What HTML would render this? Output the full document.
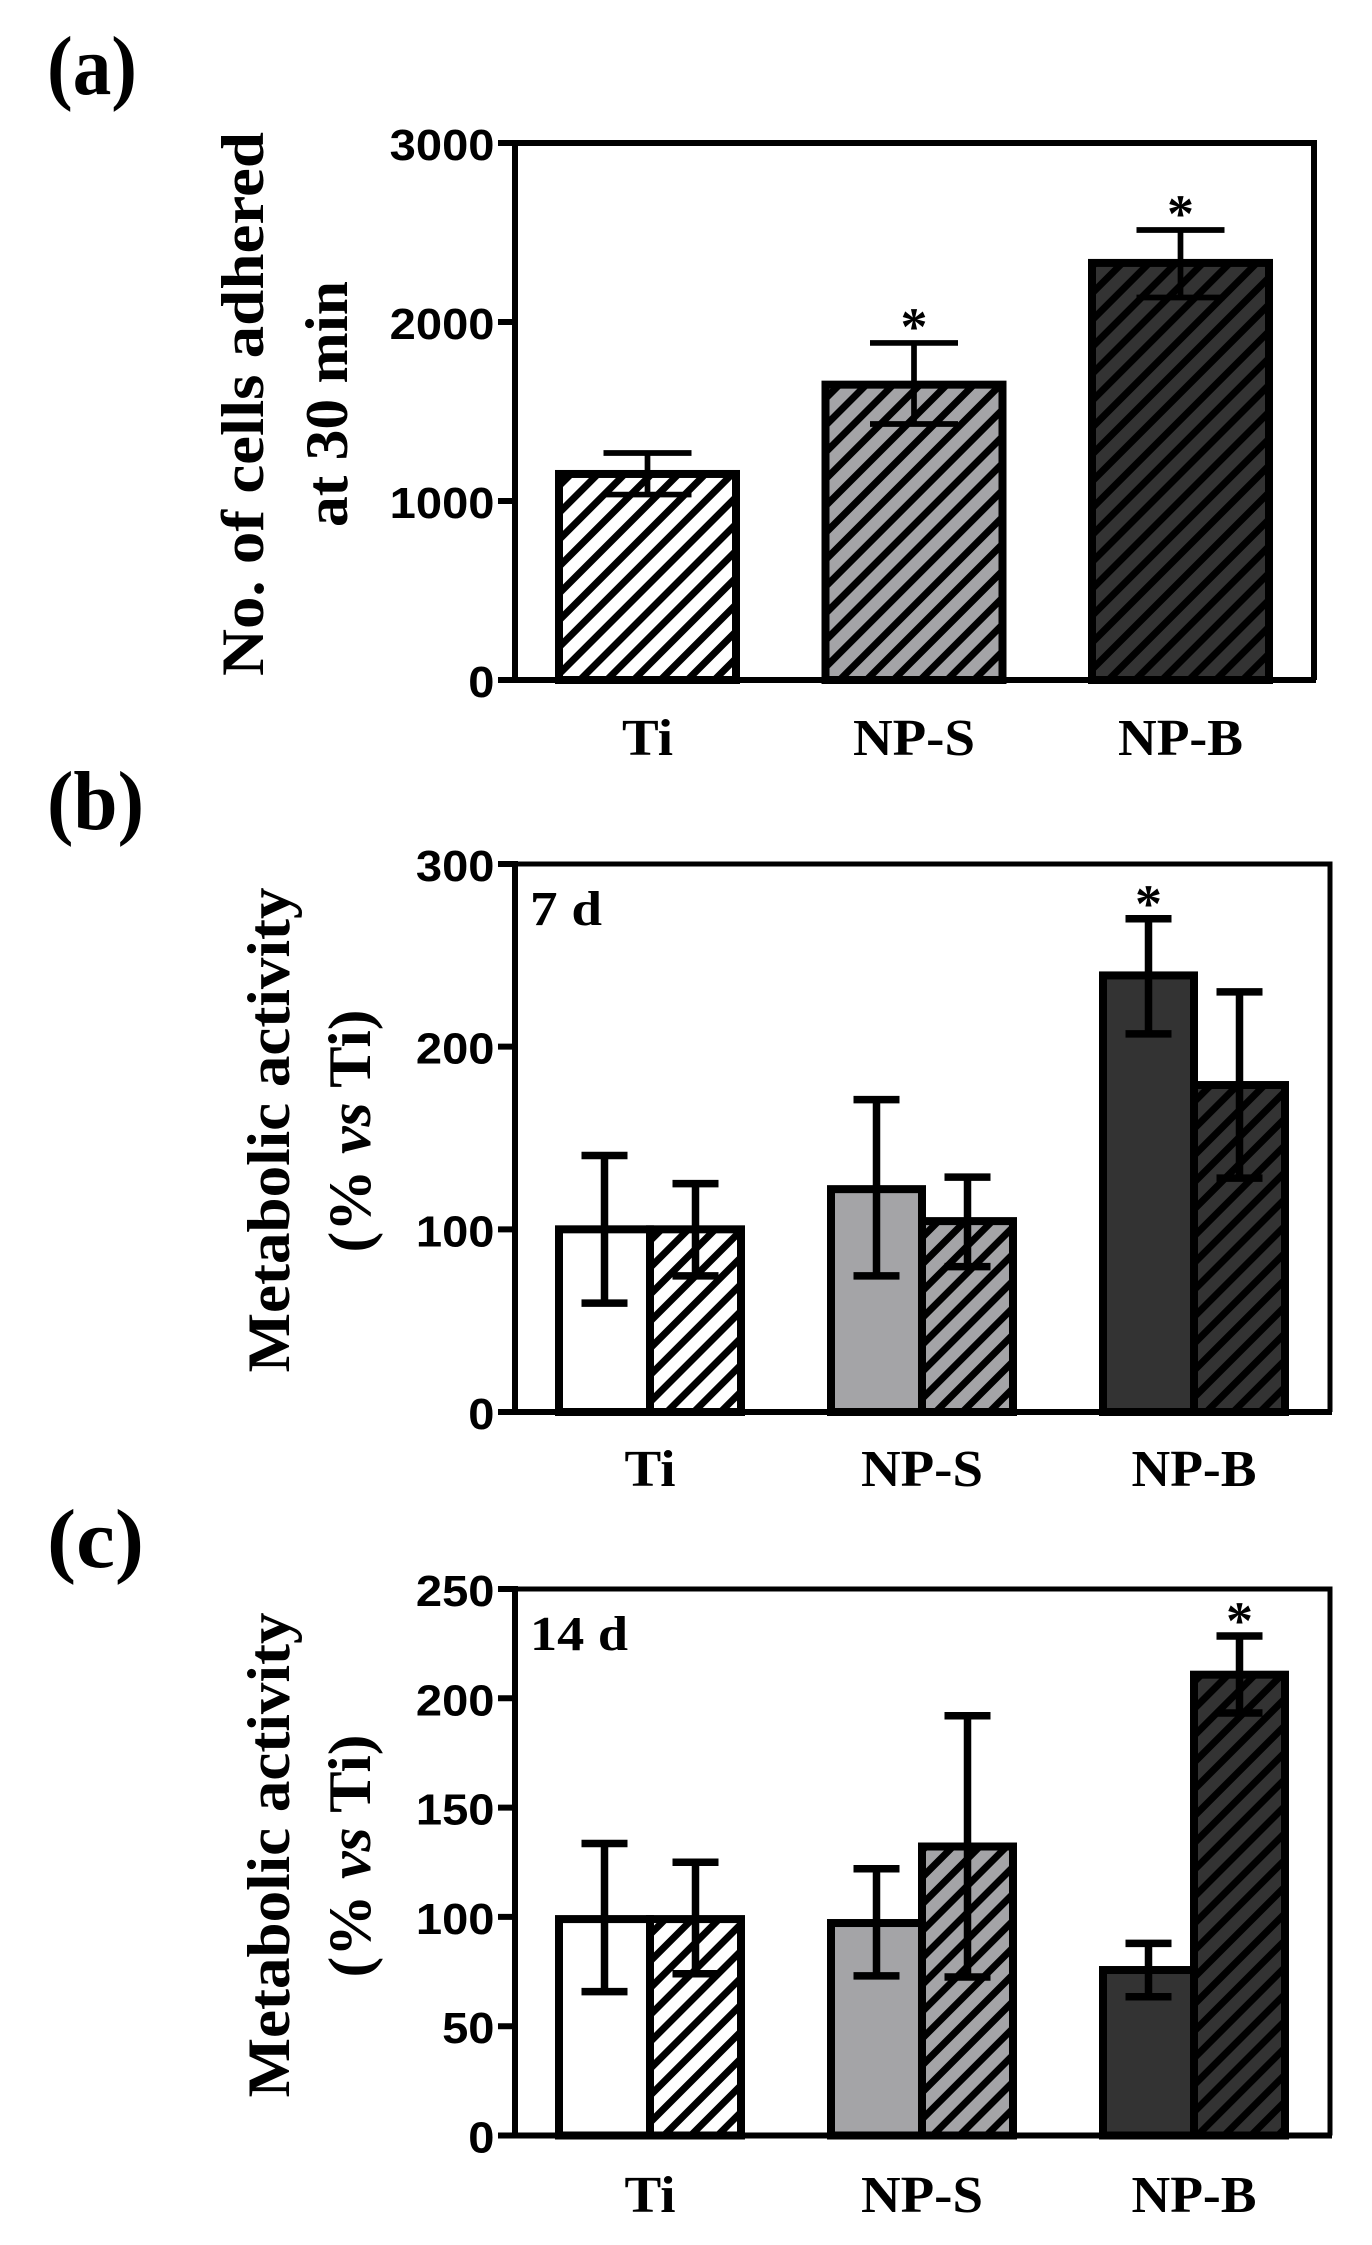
<!DOCTYPE html>
<html lang="en">
<head>
<meta charset="utf-8">
<title>Cell adhesion and metabolic activity</title>
<style>
html,body{margin:0;padding:0;background:#fff}
svg{display:block}
text{fill:#000}
.serif{font-family:"Liberation Serif",serif;font-weight:bold}
.tick{font-family:"Liberation Sans",sans-serif;font-weight:bold;font-size:44px}
</style>
</head>
<body>
<svg id="figure" xmlns="http://www.w3.org/2000/svg" width="1372" height="2245" viewBox="0 0 1372 2245">
<rect width="1372" height="2245" fill="#fff"/>
<defs id="defs"></defs>
<text class="serif" x="47" y="94" font-size="84" textLength="90" lengthAdjust="spacingAndGlyphs">(a)</text>
<text class="serif" x="47" y="829" font-size="84" textLength="97" lengthAdjust="spacingAndGlyphs">(b)</text>
<text class="serif" x="47" y="1567" font-size="84" textLength="97" lengthAdjust="spacingAndGlyphs">(c)</text>
<text class="serif" transform="translate(263,404) rotate(-90)" text-anchor="middle" font-size="60" textLength="544" lengthAdjust="spacingAndGlyphs">No. of cells adhered</text>
<text class="serif" transform="translate(347,404) rotate(-90)" text-anchor="middle" font-size="60" textLength="246" lengthAdjust="spacingAndGlyphs">at 30 min</text>
<text class="serif" transform="translate(289,1130) rotate(-90)" text-anchor="middle" font-size="60" textLength="485" lengthAdjust="spacingAndGlyphs">Metabolic activity</text>
<text class="serif" transform="translate(370,1131) rotate(-90)" text-anchor="middle" font-size="60" textLength="243" lengthAdjust="spacingAndGlyphs">(% <tspan font-style="italic">vs</tspan> Ti)</text>
<text class="serif" transform="translate(289,1855) rotate(-90)" text-anchor="middle" font-size="60" textLength="485" lengthAdjust="spacingAndGlyphs">Metabolic activity</text>
<text class="serif" transform="translate(370,1856) rotate(-90)" text-anchor="middle" font-size="60" textLength="243" lengthAdjust="spacingAndGlyphs">(% <tspan font-style="italic">vs</tspan> Ti)</text>
<text class="serif" x="530" y="925" font-size="49" textLength="72" lengthAdjust="spacingAndGlyphs">7 d</text>
<text class="serif" x="530" y="1650" font-size="49" textLength="98" lengthAdjust="spacingAndGlyphs">14 d</text>
</svg>
<script>
// Panel (a): cells adhered at 30 min
const categoriesA = ['Ti', 'NP-S', 'NP-B'];
const valuesA = [1151, 1650, 2330];
const errHighA = [1268, 1883, 2514];
const errLowA = [1036, 1430, 2137];
const ticksA = [0, 1000, 2000, 3000];
const starsA = [false, true, true];

// Panel (b): metabolic activity at 7 d (two bars per category)
const categoriesB = ['Ti', 'NP-S', 'NP-B'];
const valuesB = [100, 100, 122, 104.5, 239, 179];
const errHighB = [140.4, 125, 171, 128.6, 270, 230];
const errLowB = [59.6, 74.5, 74.5, 79.6, 207, 128];
const ticksB = [0, 100, 200, 300];
const starsB = [false, false, false, false, true, false];

// Panel (c): metabolic activity at 14 d (two bars per category)
const categoriesC = ['Ti', 'NP-S', 'NP-B'];
const valuesC = [99, 99, 97.2, 132.2, 75.7, 210.8];
const errHighC = [133.6, 125, 122, 192, 87.9, 228.5];
const errLowC = [65.8, 74, 73, 72.5, 63.5, 193.3];
const ticksC = [0, 50, 100, 150, 200, 250];
const starsC = [false, false, false, false, false, true];

const NS = 'http://www.w3.org/2000/svg';
const svg = document.getElementById('figure');
const defs = document.getElementById('defs');
const FILLS = ['#ffffff', '#a4a4a7', '#333333'];

function make(tag, attrs, parent) {
  const node = document.createElementNS(NS, tag);
  for (const key in attrs) node.setAttribute(key, attrs[key]);
  parent.appendChild(node);
  return node;
}

function hatch(id, color, phase) {
  const p = make('pattern', {
    id: id, patternUnits: 'userSpaceOnUse', width: 19.0, height: 19.0,
    patternTransform: 'translate(' + (phase - 5) + ',0) rotate(45)'
  }, defs);
  make('rect', { width: 19.0, height: 19.0, fill: color }, p);
  make('rect', { width: 7, height: 19.0, fill: '#000' }, p);
}

function drawPanel(cfg) {
  const g = make('g', {}, svg);
  
  
  const yMax = cfg.ticks[cfg.ticks.length - 1];
  const yScale = v => cfg.y0 - (v / yMax) * (cfg.y0 - cfg.yTop);
  const perGroup = cfg.values.length / cfg.categories.length;

  FILLS.forEach((c, i) => hatch('hatch-' + cfg.key + i, c, cfg.phases[i]));

  cfg.values.forEach((v, i) => {
    const group = Math.floor(i / perGroup);
    const member = i % perGroup;
    const x = cfg.x0 + group * cfg.groupStep + member * cfg.barW;
    const hatched = perGroup === 1 || member === 1;
    const bar = make('rect', {
      x: x, y: yScale(v), width: cfg.barW, height: cfg.y0 - yScale(v),
      fill: hatched ? 'url(#hatch-' + cfg.key + group + ')' : FILLS[group],
      stroke: '#000', 'stroke-width': 8
    }, g);
    
    
  });

  cfg.values.forEach((v, i) => {
    const group = Math.floor(i / perGroup);
    const member = i % perGroup;
    const cx = cfg.x0 + group * cfg.groupStep + member * cfg.barW + cfg.barW / 2;
    const hi = yScale(cfg.errHigh[i]);
    const lo = yScale(cfg.errLow[i]);
    const err = make('path', {
      d: 'M' + cx + ' ' + hi + 'V' + lo +
         'M' + (cx - cfg.capW / 2) + ' ' + hi + 'H' + (cx + cfg.capW / 2) +
         'M' + (cx - cfg.capW / 2) + ' ' + lo + 'H' + (cx + cfg.capW / 2),
      fill: 'none', stroke: '#000', 'stroke-width': cfg.errW
    }, g);
    
    
    if (cfg.stars[i]) {
      const star = make('text', {
        x: cx, y: hi + cfg.starOffset, 'text-anchor': 'middle', 'font-size': 54, class: 'serif'
      }, g);
      star.textContent = '*';
      
      
    }
  });

  const frame = make('path', {
    d: 'M' + cfg.xLeft + ' ' + cfg.yTop + 'H' + cfg.xRight + 'V' + cfg.y0,
    fill: 'none', stroke: '#000', 'stroke-width': cfg.frameW
  }, g);
  
  

  const yAxis = make('line', {
    x1: cfg.xLeft, x2: cfg.xLeft, y1: cfg.yTop - 3, y2: cfg.y0 + 3, stroke: '#000', 'stroke-width': 6
  }, g);
  
  

  const xAxis = make('line', {
    x1: cfg.xLeft, x2: cfg.xRight + 2, y1: cfg.y0, y2: cfg.y0, stroke: '#000', 'stroke-width': 6
  }, g);
  
  

  cfg.ticks.forEach(t => {
    const y = yScale(t);
    const mark = make('line', {
      x1: 498, x2: cfg.xLeft, y1: y, y2: y, stroke: '#000', 'stroke-width': 6
    }, g);
    
    
    const digits = String(t).length;
    const label = make('text', {
      x: 494.5 - digits * 26.2, y: y + 17, class: 'tick',
      textLength: digits * 26.2, lengthAdjust: 'spacingAndGlyphs'
    }, g);
    label.textContent = String(t);
    
    
  });

  cfg.categories.forEach((c, i) => {
    const cx = cfg.x0 + i * cfg.groupStep + cfg.barW * perGroup / 2;
    const lengths = { 'Ti': 51, 'NP-S': 122, 'NP-B': 125 };
    const label = make('text', {
      x: cx, y: cfg.labelY, 'text-anchor': 'middle', class: 'serif', 'font-size': 52,
      textLength: lengths[c], lengthAdjust: 'spacingAndGlyphs'
    }, g);
    label.textContent = c;
    
    
  });
}

drawPanel({
  key: 'a', categories: categoriesA, values: valuesA, errHigh: errHighA, errLow: errLowA,
  ticks: ticksA, stars: starsA, x0: 559, groupStep: 266.5, barW: 177, y0: 680, yTop: 143,
  xLeft: 515, xRight: 1314, frameW: 6, capW: 88, errW: 5.7, starOffset: 2, phases: [24, 15, 15],
  labelY: 755
});
drawPanel({
  key: 'b', categories: categoriesB, values: valuesB, errHigh: errHighB, errLow: errLowB,
  ticks: ticksB, stars: starsB, x0: 559, groupStep: 272, barW: 91, y0: 1412, yTop: 864,
  xLeft: 515, xRight: 1330, frameW: 5, capW: 46, errW: 7.5, starOffset: 3, phases: [10, 10, 12],
  labelY: 1486
});
drawPanel({
  key: 'c', categories: categoriesC, values: valuesC, errHigh: errHighC, errLow: errLowC,
  ticks: ticksC, stars: starsC, x0: 559, groupStep: 272, barW: 91, y0: 2135.5, yTop: 1589,
  xLeft: 515, xRight: 1330, frameW: 5, capW: 46, errW: 7.5, starOffset: 3, phases: [5, 5, 1],
  labelY: 2212
});
</script>
</body>
</html>
